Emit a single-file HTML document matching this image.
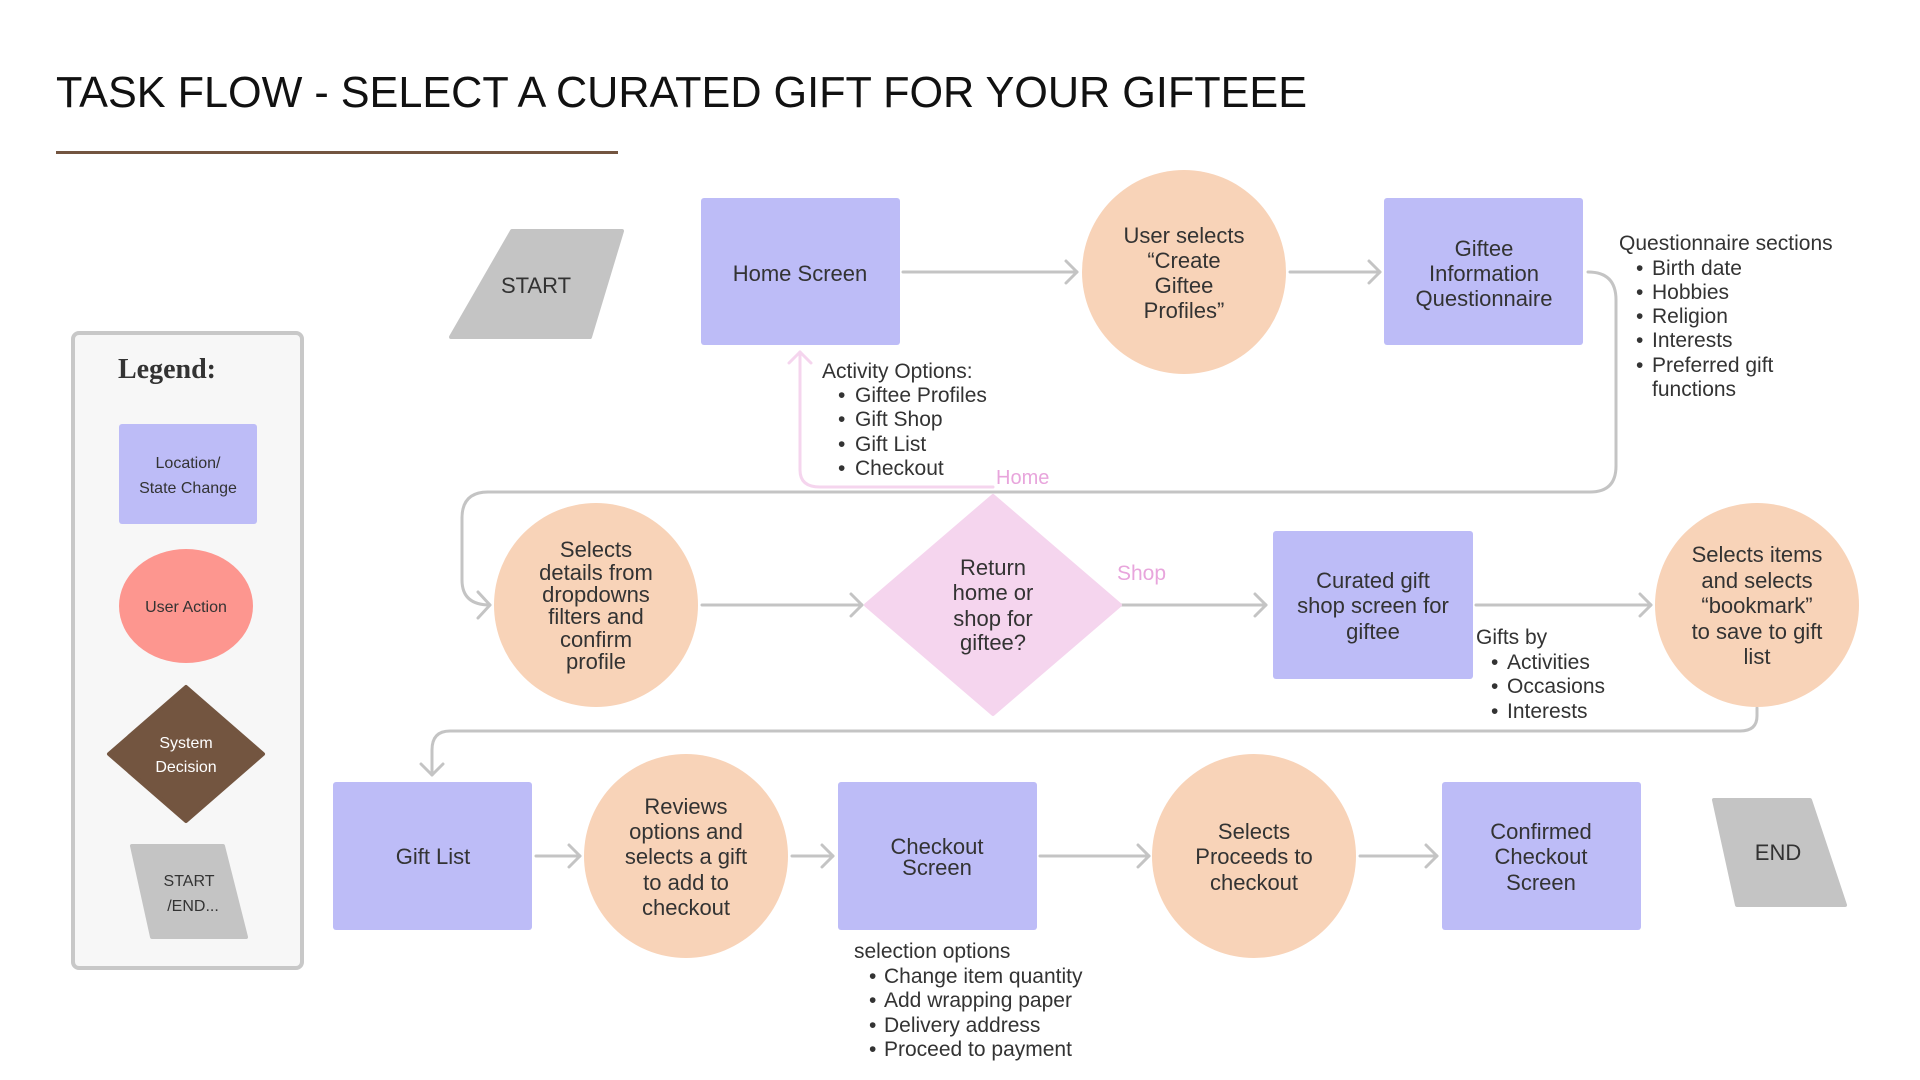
<!DOCTYPE html>
<html><head><meta charset="utf-8"><style>
html,body{margin:0;padding:0;background:#fff;}
svg{display:block;}
text{font-family:"Liberation Sans",sans-serif;fill:#333;}
.t{font-size:22px;text-anchor:middle;}
.s{font-size:21px;}
.l{font-size:16px;text-anchor:middle;}
</style></head><body>
<svg width="1920" height="1080" viewBox="0 0 1920 1080" xmlns="http://www.w3.org/2000/svg">
<rect width="1920" height="1080" fill="#fff"/>
<text x="56" y="107" style="font-size:44px;fill:#111" textLength="1251" lengthAdjust="spacingAndGlyphs">TASK FLOW - SELECT A CURATED GIFT FOR YOUR GIFTEEE</text>
<rect x="56" y="151" width="562" height="3" fill="#735540"/>

<!-- Legend -->
<rect x="73" y="333" width="229" height="635" rx="6" fill="#f7f7f7" stroke="#c8c8c8" stroke-width="4"/>
<text x="118" y="378" style="font-family:'Liberation Serif',serif;font-size:28px;font-weight:bold;fill:#333">Legend:</text>
<rect x="119" y="424" width="138" height="100" rx="3" fill="#bdbcf7"/>
<text class="l" x="188" y="468">Location/</text>
<text class="l" x="188" y="493">State Change</text>
<ellipse cx="186" cy="606" rx="67" ry="57" fill="#fd968f"/>
<text class="l" x="186" y="612">User Action</text>
<polygon points="186,687 263,754 186,821 109,754" fill="#735540" stroke="#735540" stroke-width="4" stroke-linejoin="round"/>
<text class="l" x="186" y="748" style="fill:#fff">System</text>
<text class="l" x="186" y="772" style="fill:#fff">Decision</text>
<polygon points="132,846 223,846 246,937 152,937" fill="#c4c4c4" stroke="#c4c4c4" stroke-width="4" stroke-linejoin="round"/>
<text class="l" x="189" y="886">START</text>
<text class="l" x="193" y="911">/END...</text>

<!-- connectors -->
<g fill="none" stroke="#c4c4c4" stroke-width="3" stroke-linecap="round" stroke-linejoin="round">
<line x1="903" y1="272" x2="1077" y2="272"/><polyline points="1066,261 1077,272 1066,283"/>
<line x1="1290" y1="272" x2="1380" y2="272"/><polyline points="1369,261 1380,272 1369,283"/>
<path d="M1588,272 Q1616,272 1616,300 L1616,466 Q1616,492 1590,492 L488,492 Q462,492 462,518 L462,580 Q462,605 490,605"/>
<polyline points="478,592 490,605 478,618"/>
<line x1="702" y1="605" x2="862" y2="605"/><polyline points="851,594 862,605 851,616"/>
<line x1="1122" y1="605" x2="1266" y2="605"/><polyline points="1255,594 1266,605 1255,616"/>
<line x1="1476" y1="605" x2="1651" y2="605"/><polyline points="1640,594 1651,605 1640,616"/>
<path d="M1757,708 L1757,716 Q1757,731 1740,731 L450,731 Q432,731 432,750 L432,775"/>
<polyline points="421,764 432,775 443,764"/>
<line x1="536" y1="856" x2="580" y2="856"/><polyline points="569,845 580,856 569,867"/>
<line x1="792" y1="856" x2="833" y2="856"/><polyline points="822,845 833,856 822,867"/>
<line x1="1040" y1="856" x2="1149" y2="856"/><polyline points="1138,845 1149,856 1138,867"/>
<line x1="1360" y1="856" x2="1437" y2="856"/><polyline points="1426,845 1437,856 1426,867"/>
</g>
<g fill="none" stroke="#f5d5ee" stroke-width="3" stroke-linecap="round" stroke-linejoin="round">
<path d="M993,487 L820,487 Q800,487 800,470 L800,352"/>
<polyline points="789,363 800,352 811,363"/>
</g>
<text x="996" y="484" style="font-size:20px;fill:#e8a5dc">Home</text>
<text x="1117" y="580" style="font-size:21px;fill:#e8a5dc">Shop</text>

<!-- START -->
<polygon points="512,231 622,231 590,337 451,337" fill="#c4c4c4" stroke="#c4c4c4" stroke-width="4" stroke-linejoin="round"/>
<text class="t" x="536" y="293">START</text>

<!-- row 1 -->
<rect x="701" y="198" width="199" height="147" rx="3" fill="#bdbcf7"/>
<text class="t" x="800" y="281">Home Screen</text>
<circle cx="1184" cy="272" r="102" fill="#f8d3b8"/>
<text class="t" x="1184" y="243">User selects</text>
<text class="t" x="1184" y="268">“Create</text>
<text class="t" x="1184" y="293">Giftee</text>
<text class="t" x="1184" y="318">Profiles”</text>
<rect x="1384" y="198" width="199" height="147" rx="3" fill="#bdbcf7"/>
<text class="t" x="1484" y="256">Giftee</text>
<text class="t" x="1484" y="281">Information</text>
<text class="t" x="1484" y="306">Questionnaire</text>

<text class="s" x="1619" y="250">Questionnaire sections</text>
<g class="s"><text class="s" x="1636" y="275">•</text><text class="s" x="1652" y="275">Birth date</text>
<text class="s" x="1636" y="299">•</text><text class="s" x="1652" y="299">Hobbies</text>
<text class="s" x="1636" y="323">•</text><text class="s" x="1652" y="323">Religion</text>
<text class="s" x="1636" y="347">•</text><text class="s" x="1652" y="347">Interests</text>
<text class="s" x="1636" y="372">•</text><text class="s" x="1652" y="372">Preferred gift</text>
<text class="s" x="1652" y="396">functions</text></g>

<text class="s" x="822" y="378">Activity Options:</text>
<text class="s" x="838" y="402">•</text><text class="s" x="855" y="402">Giftee Profiles</text>
<text class="s" x="838" y="426">•</text><text class="s" x="855" y="426">Gift Shop</text>
<text class="s" x="838" y="451">•</text><text class="s" x="855" y="451">Gift List</text>
<text class="s" x="838" y="475">•</text><text class="s" x="855" y="475">Checkout</text>

<!-- row 2 -->
<circle cx="596" cy="605" r="102" fill="#f8d3b8"/>
<text class="t" x="596" y="557">Selects</text>
<text class="t" x="596" y="580">details from</text>
<text class="t" x="596" y="602">dropdowns</text>
<text class="t" x="596" y="624">filters and</text>
<text class="t" x="596" y="647">confirm</text>
<text class="t" x="596" y="669">profile</text>
<polygon points="993,496 1120,605 993,714 866,605" fill="#f5d5ee" stroke="#f5d5ee" stroke-width="4" stroke-linejoin="round"/>
<text class="t" x="993" y="575">Return</text>
<text class="t" x="993" y="600">home or</text>
<text class="t" x="993" y="626">shop for</text>
<text class="t" x="993" y="650">giftee?</text>
<rect x="1273" y="531" width="200" height="148" rx="3" fill="#bdbcf7"/>
<text class="t" x="1373" y="588">Curated gift</text>
<text class="t" x="1373" y="613">shop screen for</text>
<text class="t" x="1373" y="639">giftee</text>
<circle cx="1757" cy="605" r="102" fill="#f8d3b8"/>
<text class="t" x="1757" y="562">Selects items</text>
<text class="t" x="1757" y="588">and selects</text>
<text class="t" x="1757" y="613">“bookmark”</text>
<text class="t" x="1757" y="639">to save to gift</text>
<text class="t" x="1757" y="664">list</text>
<text class="s" x="1476" y="644">Gifts by</text>
<text class="s" x="1491" y="669">•</text><text class="s" x="1507" y="669">Activities</text>
<text class="s" x="1491" y="693">•</text><text class="s" x="1507" y="693">Occasions</text>
<text class="s" x="1491" y="718">•</text><text class="s" x="1507" y="718">Interests</text>

<!-- row 3 -->
<rect x="333" y="782" width="199" height="148" rx="3" fill="#bdbcf7"/>
<text class="t" x="433" y="864">Gift List</text>
<circle cx="686" cy="856" r="102" fill="#f8d3b8"/>
<text class="t" x="686" y="814">Reviews</text>
<text class="t" x="686" y="839">options and</text>
<text class="t" x="686" y="864">selects a gift</text>
<text class="t" x="686" y="890">to add to</text>
<text class="t" x="686" y="915">checkout</text>
<rect x="838" y="782" width="199" height="148" rx="3" fill="#bdbcf7"/>
<text class="t" x="937" y="854">Checkout</text>
<text class="t" x="937" y="875">Screen</text>
<text class="s" x="854" y="958">selection options</text>
<text class="s" x="869" y="983">•</text><text class="s" x="884" y="983">Change item quantity</text>
<text class="s" x="869" y="1007">•</text><text class="s" x="884" y="1007">Add wrapping paper</text>
<text class="s" x="869" y="1032">•</text><text class="s" x="884" y="1032">Delivery address</text>
<text class="s" x="869" y="1056">•</text><text class="s" x="884" y="1056">Proceed to payment</text>
<circle cx="1254" cy="856" r="102" fill="#f8d3b8"/>
<text class="t" x="1254" y="839">Selects</text>
<text class="t" x="1254" y="864">Proceeds to</text>
<text class="t" x="1254" y="890">checkout</text>
<rect x="1442" y="782" width="199" height="148" rx="3" fill="#bdbcf7"/>
<text class="t" x="1541" y="839">Confirmed</text>
<text class="t" x="1541" y="864">Checkout</text>
<text class="t" x="1541" y="890">Screen</text>
<polygon points="1714,800 1810,800 1845,905 1737,905" fill="#c4c4c4" stroke="#c4c4c4" stroke-width="4" stroke-linejoin="round"/>
<text class="t" x="1778" y="860">END</text>
</svg>
</body></html>
